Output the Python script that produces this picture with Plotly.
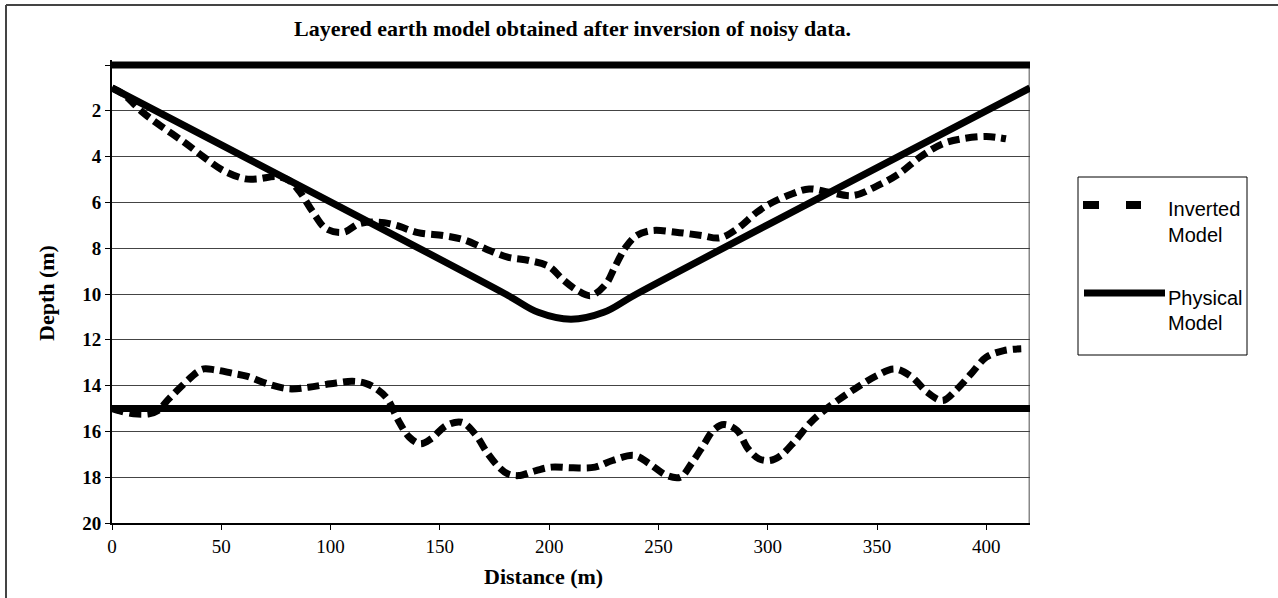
import plotly.graph_objects as go

# ---- data -------------------------------------------------------------
# Inverted model, upper interface (distance m, depth m)
inv_top_x = [0, 5, 14, 21, 33, 42, 51, 61, 67, 75, 81, 86, 92, 98, 106, 113,
             122, 130, 140, 152, 161, 171, 181, 191, 200, 206, 213, 219, 226,
             230, 235, 240, 247, 258, 270, 278, 286, 295, 301, 311, 319, 328,
             339, 349, 360, 370, 380, 389, 400, 409]
inv_top_d = [1.0, 1.26, 2.06, 2.57, 3.37, 4.02, 4.61, 4.97, 4.97, 4.87, 5.04,
             5.55, 6.43, 7.15, 7.30, 6.93, 6.86, 7.00, 7.32, 7.45, 7.63, 8.03,
             8.39, 8.54, 8.80, 9.34, 9.85, 10.07, 9.56, 8.83, 7.96, 7.45, 7.23,
             7.30, 7.45, 7.55, 7.15, 6.43, 6.06, 5.63, 5.41, 5.55, 5.70, 5.33,
             4.75, 4.00, 3.44, 3.22, 3.12, 3.22]

# Inverted model, lower interface
inv_bot_x = [0, 3, 10, 17, 21, 26, 33, 39, 42, 47, 55, 62, 71, 81, 90, 100,
             110, 116, 121, 126, 131, 136, 141, 146, 153, 160, 166, 172, 177,
             181, 186, 194, 201, 211, 221, 229, 239, 246, 254, 260, 265, 271,
             275, 280, 286, 291, 296, 301, 306, 312, 319, 323, 332, 341, 350,
             358, 366, 373, 380, 386, 393, 400, 408, 416]
inv_bot_d = [15.0, 15.09, 15.23, 15.23, 15.09, 14.58, 13.92, 13.41, 13.27,
             13.31, 13.46, 13.60, 13.92, 14.14, 14.07, 13.92, 13.81, 13.90,
             14.14, 14.58, 15.52, 16.25, 16.54, 16.32, 15.74, 15.60, 16.10,
             16.98, 17.56, 17.85, 17.93, 17.71, 17.56, 17.59, 17.56, 17.27,
             17.05, 17.42, 17.93, 18.00, 17.42, 16.54, 15.96, 15.70, 15.96,
             16.76, 17.20, 17.27, 17.05, 16.47, 15.67, 15.30, 14.65, 14.07,
             13.56, 13.27, 13.63, 14.29, 14.65, 14.21, 13.49, 12.76, 12.47,
             12.39]

# Physical model interfaces
phys_surface_x = [0, 420]
phys_surface_d = [0.0, 0.0]
phys_v_x = [0, 180, 195, 210, 225, 240, 420]
phys_v_d = [1.0, 10.0, 10.8, 11.1, 10.8, 10.0, 1.0]
phys_base_x = [0, 420]
phys_base_d = [15.0, 15.0]

x_tick_vals = [0, 50, 100, 150, 200, 250, 300, 350, 400]
y_tick_vals = [0, 2, 4, 6, 8, 10, 12, 14, 16, 18, 20]
y_tick_text = ["", "2", "4", "6", "8", "10", "12", "14", "16", "18", "20"]

title_text = "Layered earth model obtained after inversion of noisy data."
x_title = "Distance (m)"
y_title = "Depth (m)"
legend_names = [("Inverted", "Model"), ("Physical", "Model")]

# ---- layout geometry ----------------------------------------------------
W, H = 1278, 598
L, R, T, B = 112, 248, 60, 75
PW, PH = W - L - R, H - T - B


def px_x(p):
    return (p - L) / PW


def px_y(p):
    return (H - B - p) / PH


SERIF = "Liberation Serif, Times New Roman, serif"
SANS = "Liberation Sans, Arial, sans-serif"

fig = go.Figure()

inv_line = dict(color="black", width=7, dash="12px,6px", shape="spline", smoothing=1)
for xs, ds in [(inv_top_x, inv_top_d), (inv_bot_x, inv_bot_d)]:
    fig.add_trace(go.Scatter(x=xs, y=ds, mode="lines", line=inv_line,
                             name="Inverted Model", legendgroup="inv",
                             showlegend=False, hoverinfo="skip"))

phys_line = dict(color="black", width=7, shape="spline", smoothing=1)
for xs, ds in [(phys_surface_x, phys_surface_d), (phys_v_x, phys_v_d),
               (phys_base_x, phys_base_d)]:
    fig.add_trace(go.Scatter(x=xs, y=ds, mode="lines", line=phys_line,
                             name="Physical Model", legendgroup="phys",
                             showlegend=False, hoverinfo="skip"))

shapes = [
    # gray right-hand frame of the plot area
    dict(type="line", xref="x", yref="y", x0=420, x1=420, y0=0, y1=20,
         line=dict(color="#888888", width=3), layer="below"),
    # outer chart border (left and top)
    dict(type="line", xref="paper", yref="paper", x0=px_x(6), x1=px_x(6),
         y0=px_y(H), y1=px_y(5), line=dict(color="#444444", width=2)),
    dict(type="line", xref="paper", yref="paper", x0=px_x(6), x1=px_x(W),
         y0=px_y(5), y1=px_y(5), line=dict(color="#444444", width=2)),
    # legend box
    dict(type="rect", xref="paper", yref="paper", x0=px_x(1078), x1=px_x(1247),
         y0=px_y(355), y1=px_y(177), line=dict(color="black", width=1),
         fillcolor="white"),
    # legend sample: dashed
    dict(type="rect", xref="paper", yref="paper", x0=px_x(1083), x1=px_x(1099),
         y0=px_y(209), y1=px_y(201), line=dict(width=0), fillcolor="black"),
    dict(type="rect", xref="paper", yref="paper", x0=px_x(1126), x1=px_x(1141),
         y0=px_y(209), y1=px_y(201), line=dict(width=0), fillcolor="black"),
    # legend sample: solid
    dict(type="line", xref="paper", yref="paper", x0=px_x(1084), x1=px_x(1165),
         y0=px_y(293), y1=px_y(293), line=dict(color="black", width=7)),
]

annotations = [
    dict(text="<b>" + title_text + "</b>", x=px_x(572), y=px_y(29),
         font=dict(family=SERIF, size=22, color="black")),
    dict(text="<b>" + x_title + "</b>", x=px_x(543), y=px_y(576),
         font=dict(family=SERIF, size=22, color="black")),
    dict(text="<b>" + y_title + "</b>", x=px_x(46), y=px_y(293), textangle=-90,
         font=dict(family=SERIF, size=22, color="black")),
]
legend_rows = [(legend_names[0][0], 209.5), (legend_names[0][1], 234.5),
               (legend_names[1][0], 298), (legend_names[1][1], 323)]
for txt, yy in legend_rows:
    annotations.append(dict(text=txt, x=px_x(1166), y=px_y(yy), xanchor="left",
                            font=dict(family=SANS, size=20, color="black")))
for a in annotations:
    a.setdefault("xanchor", "center")
    a.update(xref="paper", yref="paper", yanchor="middle", showarrow=False)

fig.update_layout(
    width=W, height=H,
    margin=dict(l=L, r=R, t=T, b=B, pad=0),
    paper_bgcolor="white", plot_bgcolor="white",
    showlegend=False,
    shapes=shapes,
    annotations=annotations,
    xaxis=dict(range=[0, 420], tickvals=x_tick_vals, showgrid=False,
               zeroline=False, showline=True, linecolor="black", linewidth=2,
               ticks="outside", ticklen=5, tickwidth=1, tickcolor="black",
               tickfont=dict(family=SERIF, size=19, color="black"),
               tickprefix="<b>", ticksuffix="</b>"),
    yaxis=dict(range=[20, -0.22], tickvals=y_tick_vals, ticktext=[
        "<b>" + t + "</b>" if t else "" for t in y_tick_text],
               showgrid=True, gridcolor="#444444", gridwidth=1,
               zeroline=False, showline=True, linecolor="black", linewidth=2,
               ticks="outside", ticklen=5, tickwidth=1, tickcolor="black",
               tickfont=dict(family=SERIF, size=19, color="black")),
)

fig.write_html("out.html")
